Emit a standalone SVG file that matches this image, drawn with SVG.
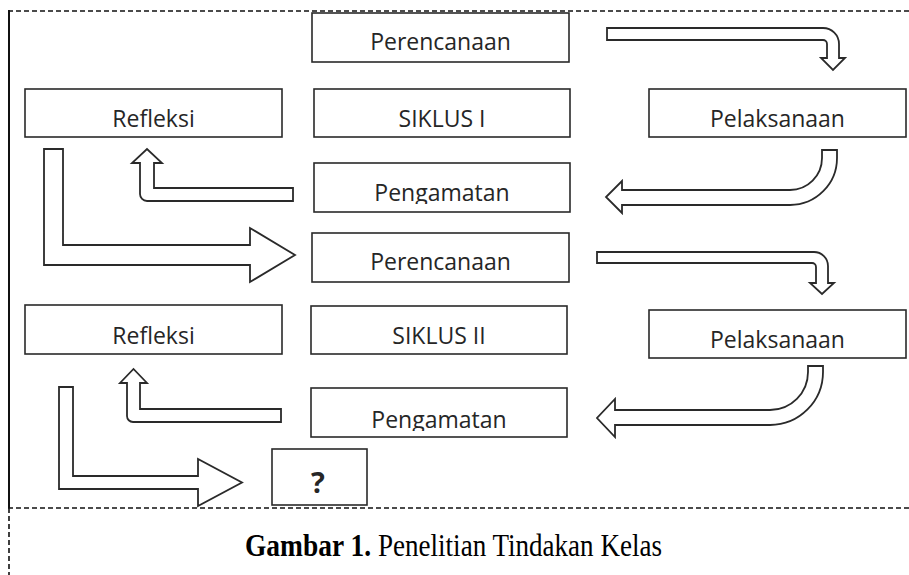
<svg xmlns="http://www.w3.org/2000/svg" width="909" height="575" viewBox="0 0 909 575">
<style>
.box{fill:#fff;stroke:#2a2a2a;stroke-width:1.6}
.lbl{font-family:"Open Sans","Noto Sans","DejaVu Sans",sans-serif;font-size:23px;fill:#262626;text-anchor:middle}
.arr{fill:#fff;stroke:#2a2a2a;stroke-width:1.8;stroke-linejoin:miter}
.dash{stroke:#111;stroke-width:1.6;stroke-dasharray:5 3;fill:none}
.solid{stroke:#111;stroke-width:2;fill:none}
.cap{font-family:"Liberation Serif","Times New Roman",serif;font-size:31px;fill:#000}
</style>
<defs>
<clipPath id="c1"><rect x="314" y="163" width="256" height="41"/></clipPath>
<clipPath id="c2"><rect x="311" y="388" width="256" height="43"/></clipPath>
</defs>
<rect width="909" height="575" fill="#fff"/>
<g id="frame">
<line class="dash" x1="8" y1="11" x2="909" y2="11"/>
<line class="solid" x1="9" y1="10" x2="9" y2="508"/>
<line class="dash" x1="8" y1="508" x2="909" y2="508"/>
<line class="dash" x1="9" y1="508" x2="9" y2="575"/>
</g>
<g id="connectors">
<path id="a1" class="arr" d="M607,28 H823 A16,16 0 0 1 839,44 V58 H845 L833,70 L821,58 H827 V44 A4,4 0 0 0 823,40 H607 Z"/>
<path id="a2" class="arr" d="M822,150 H837 V158 A47,47 0 0 1 790,205 H622 V213 L606,197 L622,181 V190 H790 A32,32 0 0 0 822,158 Z"/>
<path id="a3" class="arr" d="M293,188 V201 H147 A7,7 0 0 1 140,194 V163 H132 L147,149 L162,163 H154 V188 Z"/>
<path id="a4" class="arr" d="M44,149 H63 V245 H250 V228 L295,255 L250,282 V265 H44 Z"/>
<path id="a5" class="arr" d="M597,252 H814 A14,14 0 0 1 828,266 V283 H834 L822,294 L810,283 H816 V267 A4,4 0 0 0 812,263 H597 Z"/>
<path id="a6" class="arr" d="M808,366 H823 V372 A53,53 0 0 1 770,425 H615 V437 L597,418 L615,399 V410 H770 A38,38 0 0 0 808,372 Z"/>
<path id="a7" class="arr" d="M281,409 V422 H133 A6,6 0 0 1 127,416 V383 H120 L133.5,369 L147,383 H140 V409 Z"/>
<path id="a8" class="arr" d="M59,387 H73 V476 H198 V459 L242,482.5 L198,506 V489 H59 Z"/>
</g>
<g id="perencanaan1"><rect class="box" x="312" y="13" width="257" height="49"/><text class="lbl" x="440.5" y="50">Perencanaan</text></g>
<g id="refleksi1"><rect class="box" x="25" y="89" width="257" height="48"/><text class="lbl" x="153.5" y="127">Refleksi</text></g>
<g id="siklus1"><rect class="box" x="314" y="89" width="256" height="48"/><text class="lbl" x="442" y="127">SIKLUS I</text></g>
<g id="pengamatan1"><rect class="box" x="314" y="163" width="256" height="49"/><text class="lbl" x="442" y="201" clip-path="url(#c1)">Pengamatan</text></g>
<g id="pelaksanaan1"><rect class="box" x="649" y="89" width="257" height="48"/><text class="lbl" x="777.5" y="127">Pelaksanaan</text></g>
<g id="perencanaan2"><rect class="box" x="312" y="233" width="257" height="49"/><text class="lbl" x="440.5" y="270">Perencanaan</text></g>
<g id="refleksi2"><rect class="box" x="25" y="305" width="257" height="49"/><text class="lbl" x="153.5" y="344">Refleksi</text></g>
<g id="siklus2"><rect class="box" x="311" y="306" width="256" height="48"/><text class="lbl" x="439" y="344">SIKLUS II</text></g>
<g id="pengamatan2"><rect class="box" x="311" y="388" width="256" height="49"/><text class="lbl" x="439" y="428" clip-path="url(#c2)">Pengamatan</text></g>
<g id="pelaksanaan2"><rect class="box" x="649" y="310" width="257" height="48"/><text class="lbl" x="777.5" y="348">Pelaksanaan</text></g>
<g id="next"><rect class="box" x="272" y="449" width="95" height="56"/><text class="lbl" x="318" y="493" style="font-weight:bold;font-size:29px">?</text></g>
<g id="caption">
<text class="cap" x="245" y="556" font-weight="bold" textLength="126" lengthAdjust="spacingAndGlyphs">Gambar 1.</text>
<text class="cap" x="378" y="556" textLength="284" lengthAdjust="spacingAndGlyphs">Penelitian Tindakan Kelas</text>
</g>
</svg>
